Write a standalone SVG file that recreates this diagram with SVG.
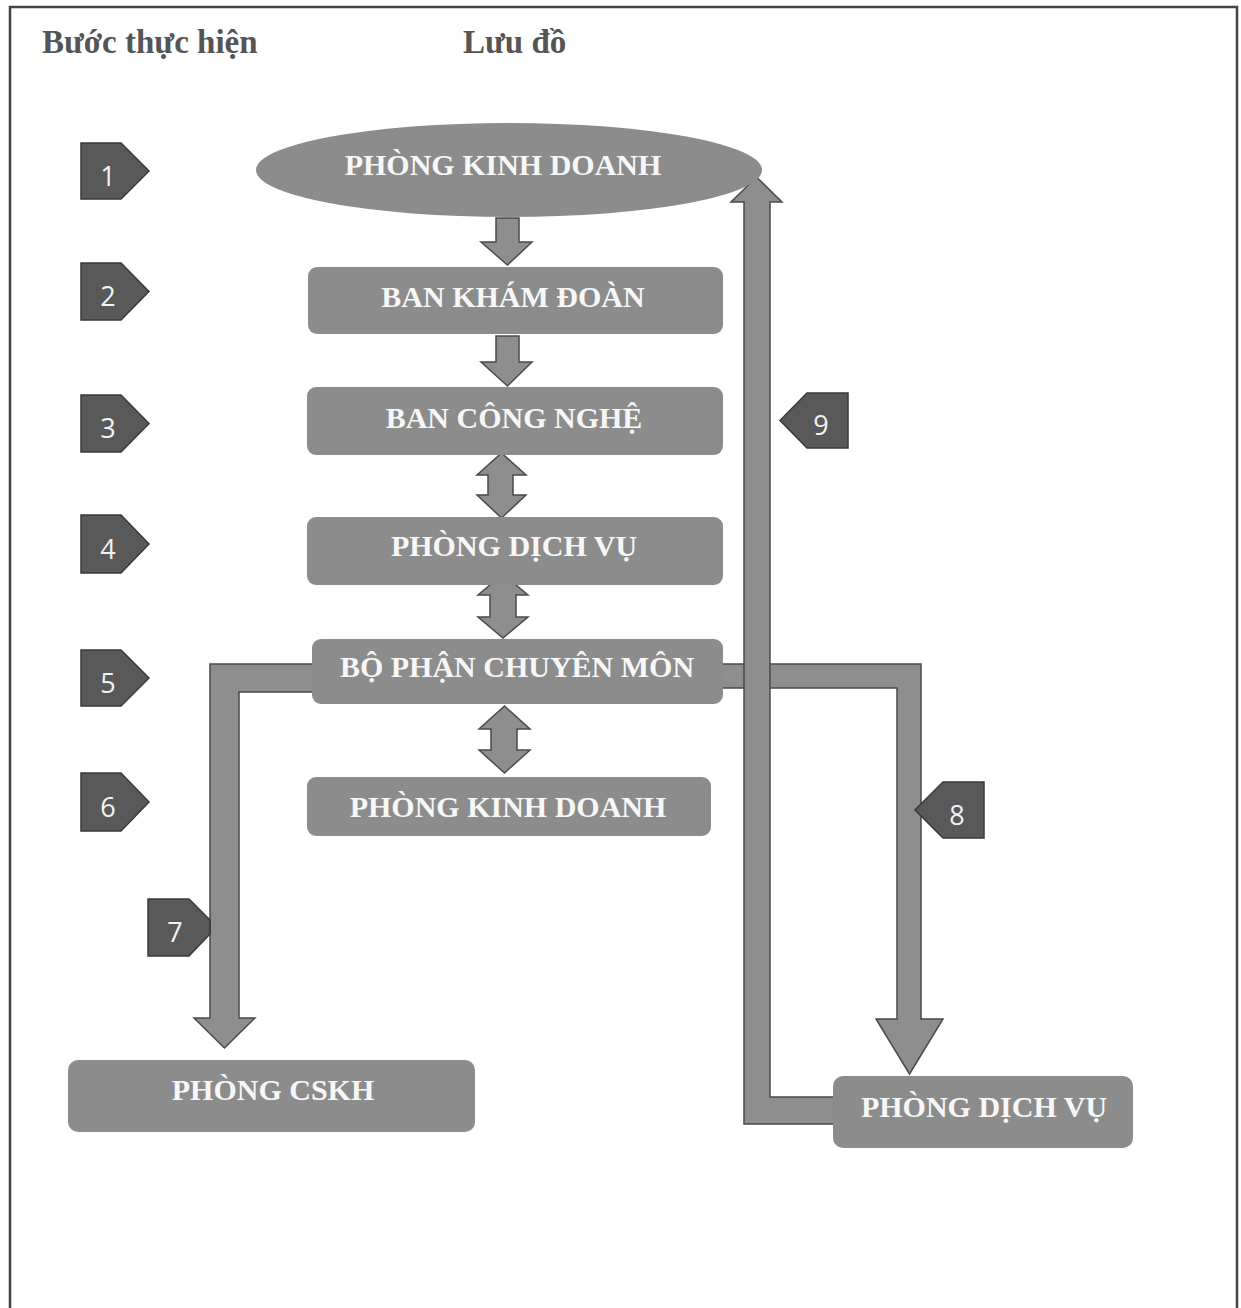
<svg xmlns="http://www.w3.org/2000/svg" width="1241" height="1308" viewBox="0 0 1241 1308">
<style>
.hdr{font-family:"Liberation Serif","Times New Roman",serif;font-weight:bold;font-size:33px;fill:#555555}
.box{fill:#8c8c8c}
.lbl{font-family:"Liberation Serif","Times New Roman",serif;font-weight:bold;font-size:30px;fill:#f7f7f7;text-anchor:middle}
.mk{fill:#595959;stroke:#3a3a3a;stroke-width:1.5}
.num{font-family:"Open Sans","DejaVu Sans",sans-serif;font-size:27px;fill:#f2f2f2;text-anchor:middle}
.arr{fill:#8e8e8e;stroke:#4a4a4a;stroke-width:1.5;stroke-linejoin:miter}
</style>
<rect width="1241" height="1308" fill="#ffffff"/>
<path d="M10,1308 V7 H1237 V1308" fill="none" stroke="#444444" stroke-width="2.5"/>
<g id="headers">
<text class="hdr" x="42" y="53">Bước thực hiện</text>
<text class="hdr" x="463" y="53">Lưu đồ</text>
</g>
<g id="connectors">
<polygon class="arr" points="496,218 519,218 519,242 532,242 507.5,265 481,242 496,242"/>
<polygon class="arr" points="496,336 519,336 519,362 532,362 507.5,386 481,362 496,362"/>
<polygon class="arr" points="501.5,453 526,475 513,475 513,495 526,495 501.5,518 477,495 488,495 488,475 477,475"/>
<polygon class="arr" points="503,574 528,595 516,595 516,617 528,617 503,638 478,617 490,617 490,595 478,595"/>
<polygon class="arr" points="504.5,706 530,729 517,729 517,750 530,750 504.5,773 479,750 491,750 491,729 479,729"/>
<polygon class="arr" points="318,664 210,664 210,1018 194,1018 224.5,1048 255,1018 239,1018 239,692 318,692"/>
<polygon class="arr" points="716,664 921,664 921,1019 943,1019 909.5,1074 876,1019 897,1019 897,688 716,688"/>
<polygon class="arr" points="840,1124 744,1124 744,202 731,202 756.5,177 782,202 770,202 770,1097 840,1097"/>
</g>
<g id="n1">
<ellipse class="box" cx="509" cy="170" rx="253" ry="47"/>
<text class="lbl" x="503" y="175">PHÒNG KINH DOANH</text>
</g>
<g id="n2">
<rect class="box" x="308" y="267" width="415" height="67" rx="9"/>
<text class="lbl" x="513" y="307">BAN KHÁM ĐOÀN</text>
</g>
<g id="n3">
<rect class="box" x="307" y="387" width="416" height="68" rx="9"/>
<text class="lbl" x="514" y="428">BAN CÔNG NGHỆ</text>
</g>
<g id="n4">
<rect class="box" x="307" y="517" width="416" height="68" rx="9"/>
<text class="lbl" x="514" y="556">PHÒNG DỊCH VỤ</text>
</g>
<g id="n5">
<rect class="box" x="312" y="639" width="411" height="65" rx="9"/>
<text class="lbl" x="517" y="677">BỘ PHẬN CHUYÊN MÔN</text>
</g>
<g id="n6">
<rect class="box" x="307" y="777" width="404" height="59" rx="9"/>
<text class="lbl" x="508" y="817">PHÒNG KINH DOANH</text>
</g>
<g id="n7">
<rect class="box" x="68" y="1060" width="407" height="72" rx="10"/>
<text class="lbl" x="273" y="1100">PHÒNG CSKH</text>
</g>
<g id="n8">
<rect class="box" x="833" y="1076" width="300" height="72" rx="10"/>
<text class="lbl" x="984" y="1117">PHÒNG DỊCH VỤ</text>
</g>
<g id="markers">
<g id="m1"><polygon class="mk" points="81,143 121,143 149,171 121,199 81,199"/><text class="num" x="108" y="186">1</text></g>
<g id="m2"><polygon class="mk" points="81,263 121,263 149,291.5 121,320 81,320"/><text class="num" x="108" y="306">2</text></g>
<g id="m3"><polygon class="mk" points="81,395 121,395 149,423.5 121,452 81,452"/><text class="num" x="108" y="438">3</text></g>
<g id="m4"><polygon class="mk" points="81,515 121,515 149,544 121,573 81,573"/><text class="num" x="108" y="559">4</text></g>
<g id="m5"><polygon class="mk" points="81,650 121,650 149,678 121,706 81,706"/><text class="num" x="108" y="693">5</text></g>
<g id="m6"><polygon class="mk" points="81,773 121,773 149,802 121,831 81,831"/><text class="num" x="108" y="817">6</text></g>
<g id="m7"><polygon class="mk" points="148,899 189,899 210,920 210,934 189,956 148,956"/><text class="num" x="175" y="942">7</text></g>
<g id="m8"><polygon class="mk" points="984,782 943,782 915,810 943,838 984,838"/><text class="num" x="957" y="825">8</text></g>
<g id="m9"><polygon class="mk" points="848,393 807,393 780,420.5 807,448 848,448"/><text class="num" x="821" y="435">9</text></g>
</g>
</svg>
